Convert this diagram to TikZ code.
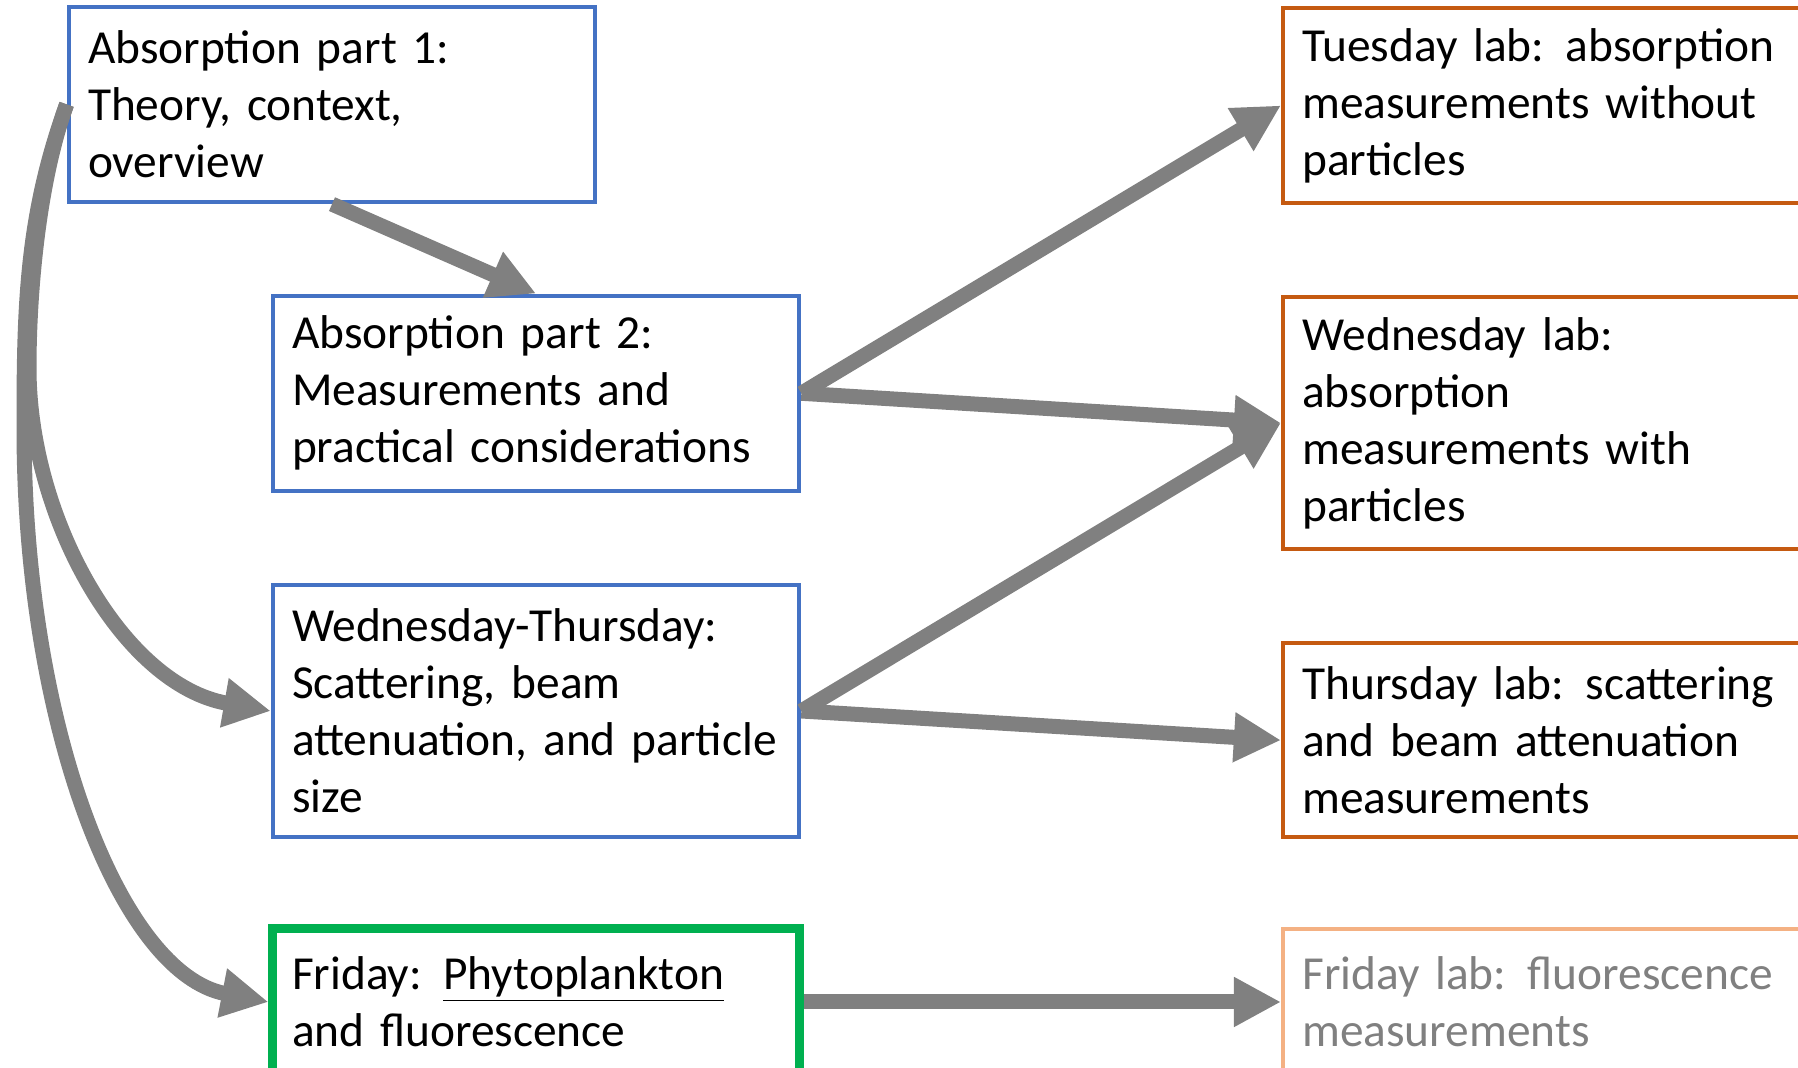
\documentclass[tikz,border=0pt]{standalone}
\usepackage{fontspec}
\setmainfont{Carlito}
\usepackage{tikz}
\usetikzlibrary{arrows.meta}
\definecolor{lecblue}{HTML}{4472C4}
\definecolor{laborange}{HTML}{C55A11}
\definecolor{labpeach}{HTML}{F4B183}
\definecolor{frigreen}{HTML}{00B050}
\definecolor{flowgray}{HTML}{808080}
\newcommand{\boxfont}{\fontsize{23.7pt}{28.5pt}\selectfont}
\newcommand{\gap}{\hspace{0.45em}}
\tikzset{box/.style={rectangle,draw,line width=2.25pt,align=left,inner xsep=9.55pt,font=\boxfont}}
\tikzset{lecture/.style={box,draw=lecblue,text width=244pt}}
\tikzset{lab/.style={box,draw=laborange,text width=260pt,anchor=west}}
\tikzset{flow/.style={-{Triangle[length=23.5pt,width=23.5pt]},line width=7.5pt,flowgray}}

\begin{document}
\begin{tikzpicture}[x=0.5pt,y=0.5pt]
\useasboundingbox (0,0) rectangle (1798,1068);
\clip (0,0) rectangle (1798,1068);
%
% lectures
{
\node (lec1) [lecture,minimum height=97.5pt] at (332,963.6) {Absorption part 1:\\Theory, context,\\overview};
\node (lec2) [lecture,minimum height=97.5pt] at (536,674.7) {Absorption part 2:\\Measurements and\\practical considerations};
\node (lec3) [lecture,minimum height=126.2pt] at (536,357) {Wednesday-Thursday:\\Scattering, beam\\attenuation, and particle\\size};
\node (lec4) [lecture,draw=frigreen,line width=4.5pt,minimum height=73pt] at (536,66) {Friday:\gap\underline{Phytoplankton}\\and fluorescence};
}
%
% labs
{
\node (lab1) [lab,minimum height=97.5pt] at (1280.9,962.5) {Tuesday lab:\gap absorption\\measurements without\\particles};
\node (lab2) [lab,minimum height=126.2pt] at (1280.9,645) {Wednesday lab:\\absorption\\measurements with\\particles};
\node (lab3) [lab,minimum height=97pt] at (1280.9,327.8) {Thursday lab:\gap scattering\\and beam attenuation\\measurements};
\node (lab4) [lab,draw=labpeach,text=flowgray,minimum height=73pt] at (1280.9,66) {Friday lab:\gap fluorescence\\measurements};
}
%
{
\path[flow](lec1.south) edge (lec2.north);
\path[flow](lec2.east) edge (lab1.west);
\path[flow](lec2.east) edge (lab2.west);
\path[flow](lec3.east) edge (lab2.west);
\path[flow](lec3.east) edge (lab3.west);
\path[flow](lec4.east) edge (lab4.west);
}
%
% long arrows down the left side
{
\coordinate (bend3) at (29,700);
\coordinate (bend4) at (24,640);
\draw[flow](lec1.west) to[out=250,in=90,out distance=40pt,in distance=40pt] (bend3)
  to[out=-90,in=170,out distance=75pt,in distance=75pt] (lec3.west);
\draw[flow](lec1.west) to[out=250,in=90,out distance=60pt,in distance=60pt] (bend4)
  to[out=-90,in=169,out distance=150pt,in distance=75pt] (lec4.west);
}
\end{tikzpicture}
\end{document}
